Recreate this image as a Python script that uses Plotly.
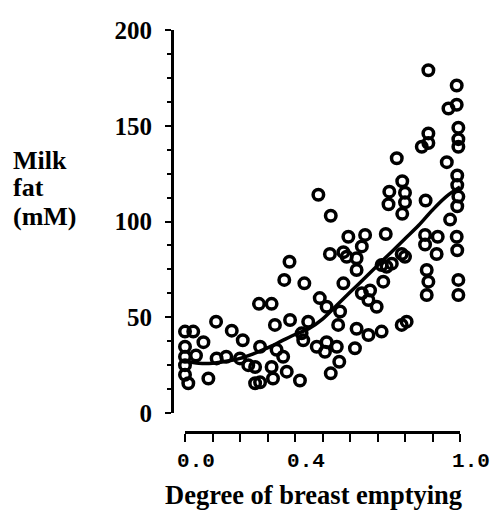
import plotly.graph_objects as go

# Observed data points (degree of breast emptying, milk fat mM)
emptying = [
    0.885, 0.988, 0.988, 0.958, 0.994, 0.994, 0.994, 0.885, 0.861, 0.885,
    0.770, 0.952, 0.990, 0.990, 0.994, 0.990, 0.964, 0.988, 0.990, 0.994,
    0.994, 0.485, 0.530, 0.743, 0.790, 0.800, 0.740, 0.800, 0.875, 0.790,
    0.730, 0.594, 0.655, 0.643, 0.873, 0.919, 0.873, 0.915, 0.788, 0.527,
    0.576, 0.380, 0.361, 0.434, 0.269, 0.315, 0.113, 0.170, 0.210, 0.067,
    0.030, 0.000, 0.000, 0.000, 0.012, 0.000, 0.085, 0.115, 0.200, 0.230,
    0.273, 0.255, 0.273, 0.315, 0.320, 0.370, 0.418, 0.327, 0.382, 0.333,
    0.357, 0.448, 0.430, 0.479, 0.515, 0.509, 0.552, 0.561, 0.530, 0.490,
    0.515, 0.564, 0.557, 0.576, 0.588, 0.624, 0.624, 0.643, 0.673, 0.697,
    0.667, 0.624, 0.618, 0.667, 0.715, 0.806, 0.788, 0.721, 0.715, 0.752,
    0.879, 0.885, 0.879, 0.150, 0.255, 0.424, 0.733, 0.800, 0.000, 0.040,
]
milk_fat = [
    179, 171, 161, 159, 149, 143, 139, 146, 139, 141,
    133, 131, 124, 119, 113, 108, 101, 92, 85, 69.5,
    61.6, 114, 103, 115.6, 121, 115, 109, 110, 111, 104,
    93.5, 92, 93, 87, 93, 92, 88, 83, 83, 83,
    84, 79, 69.5, 67.7, 57, 57, 47.7, 43, 38, 37,
    42.5, 42.5, 34.6, 29.4, 15.5, 20, 18, 28.5, 28.5, 25,
    34.6, 15.5, 16, 24, 18, 21.6, 17, 46, 48.6, 33,
    29.4, 47.7, 38, 34.6, 37, 32, 34.6, 26.8, 20.7, 60,
    55.5, 53, 46, 67.7, 81.6, 80.8, 74.7, 62.5, 64, 55.5,
    59, 44, 33.8, 40.7, 42.5, 47.7, 46, 68.6, 77.3, 78,
    74.7, 68.6, 61.6, 29.4, 24, 41.6, 76.4, 81.6, 25, 30,
]

# Fitted curve
curve_x = [0.0, 0.05, 0.1, 0.15, 0.2, 0.25, 0.3, 0.35, 0.4, 0.45, 0.5,
           0.55, 0.6, 0.65, 0.7, 0.75, 0.8, 0.85, 0.9, 0.95, 1.0]
curve_y = [27, 26, 26, 27, 28.5, 31, 34, 37.5, 41, 44, 49,
           56, 63, 70, 77, 84, 91, 98, 106, 113, 118]

x_tickvals = [0.0, 0.1, 0.2, 0.3, 0.4, 0.5, 0.6, 0.7, 0.8, 0.9, 1.0]
x_ticktext = ["0.0", "", "", "", "0.4", "", "", "", "", "", "1.0"]
y_tickvals = [0, 50, 100, 150, 200]
y_ticktext = ["0", "50", "100", "150", "200"]
ylabel_lines = ["Milk", "fat", "(mM)"]

PAGE_OFFSET = 8  # browser default body margin
W, H = 499 - PAGE_OFFSET, 522 - 2 * PAGE_OFFSET  # fit the window without scrollbars
serif = "Liberation Serif"


def fx(px):
    return (px - PAGE_OFFSET) / W


def fy(py):
    return 1 - (py - PAGE_OFFSET) / H


fig = go.Figure()
fig.add_trace(go.Scatter(
    x=curve_x, y=curve_y, mode="lines",
    line=dict(color="black", width=3.5, shape="spline"),
    hoverinfo="skip", showlegend=False,
))
fig.add_trace(go.Scatter(
    x=emptying, y=milk_fat, mode="markers",
    marker=dict(symbol="circle-open", size=10.5, color="black",
                line=dict(color="black", width=3.5)),
    cliponaxis=False, showlegend=False,
))

annotations = [
    dict(text="Degree of breast emptying", x=fx(313), y=fy(495),
         xref="paper", yref="paper", showarrow=False,
         xanchor="center", yanchor="middle",
         font=dict(family=serif, size=26.5, color="black", weight="bold")),
]
for i, line in enumerate(ylabel_lines):
    annotations.append(dict(
        text=line, x=fx(11), y=fy(160 + 28 * i),
        xref="paper", yref="paper", showarrow=False,
        xanchor="left", yanchor="middle",
        font=dict(family=serif, size=26, color="black", weight="bold")))

fig.update_layout(
    width=W, height=H,
    margin=dict(l=0, r=0, t=0, b=0, autoexpand=False),
    paper_bgcolor="white", plot_bgcolor="white",
    xaxis=dict(
        domain=[fx(185), fx(460)], range=[0, 1],
        anchor="free", position=fy(432), automargin=False,
        showgrid=False, zeroline=False,
        showline=True, linecolor="black", linewidth=3,
        ticks="outside", ticklen=8, tickwidth=2, tickcolor="black",
        tickvals=x_tickvals, ticktext=x_ticktext,
        tickfont=dict(family="Liberation Mono", size=21, color="black", weight="bold"),
        ticklabelshift=11,
    ),
    yaxis=dict(
        domain=[fy(413), fy(30)], range=[0, 200],
        anchor="free", position=fx(172), automargin=False,
        showgrid=False, zeroline=False,
        showline=True, linecolor="black", linewidth=3,
        ticks="outside", ticklen=6, tickwidth=2, tickcolor="black",
        tickvals=y_tickvals, ticktext=y_ticktext,
        tickfont=dict(family=serif, size=25, color="black", weight="bold"),
        ticklabelstandoff=8,
        minor=dict(dtick=12.5, ticks="outside", ticklen=4, tickwidth=2, tickcolor="black"),
    ),
    annotations=annotations,
)

fig.write_html("out.html")
